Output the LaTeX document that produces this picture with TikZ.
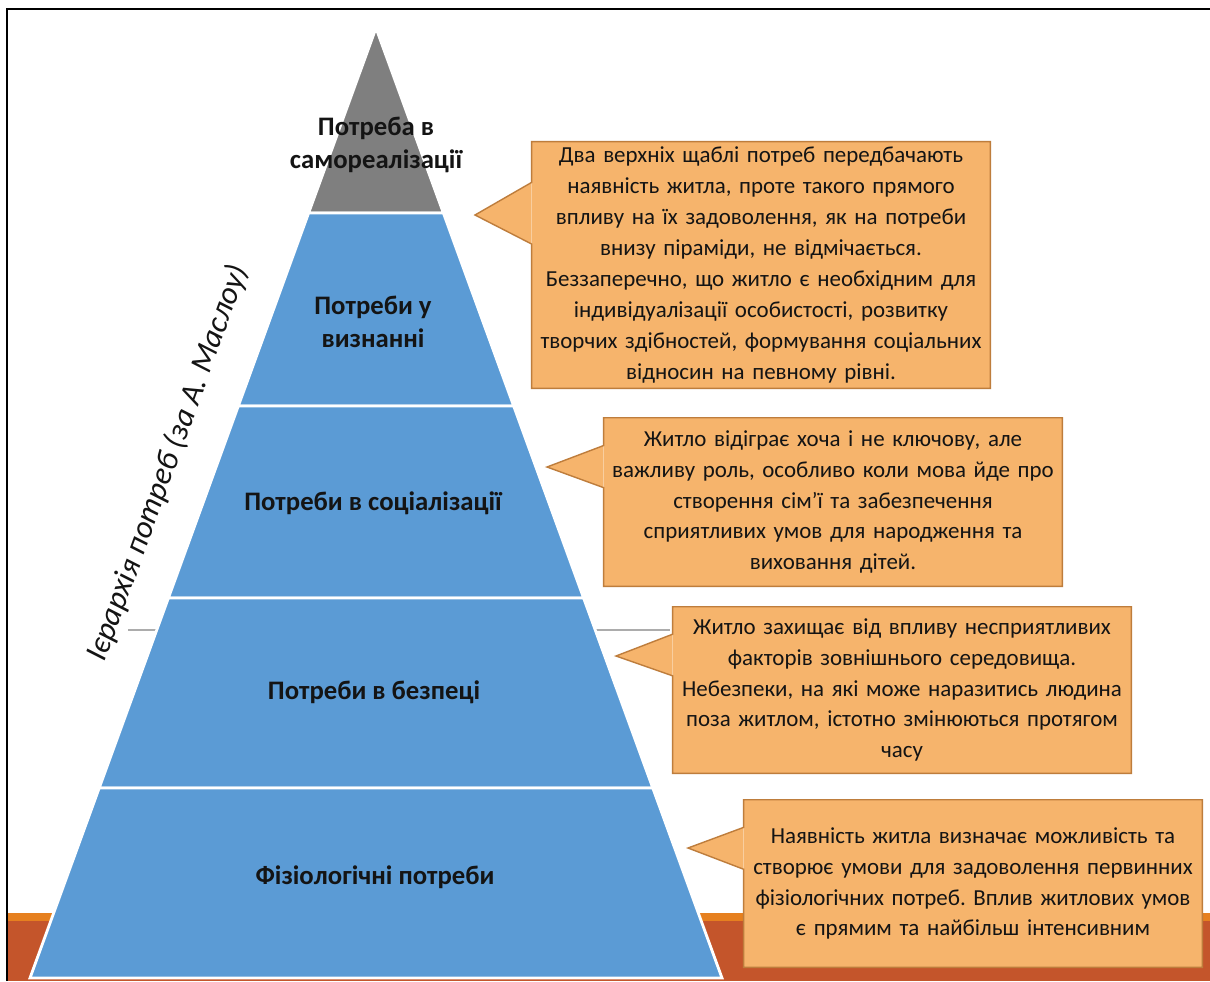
\documentclass[tikz,border=0pt]{standalone}
\usepackage{fontspec}
\setmainfont{Carlito}
\usetikzlibrary{calc}
\frenchspacing

\definecolor{topgray}{HTML}{7F7F7F}
\definecolor{levelblue}{HTML}{5B9BD5}
\definecolor{notefill}{HTML}{F6B46C}
\definecolor{noteline}{HTML}{BE7D3C}
\definecolor{bandlight}{HTML}{E6801F}
\definecolor{banddark}{HTML}{C4552B}

\begin{document}
\begin{tikzpicture}[x=0.025cm,y=-0.025cm,
  level node/.style={font=\fontsize{19}{24}\selectfont\bfseries,text=black!92,align=center},
  note node/.style={fill=notefill,minimum width=11.45cm,text width=11.4cm,align=center,
        inner sep=0pt,font=\fontsize{16.3}{22}\selectfont,text=black!92},
  note edge/.style={draw=noteline,line width=1pt,line join=miter},
  slice node/.style={draw=white,line width=2pt}]
  \useasboundingbox (0,0) rectangle (1210,981);
  \fill[white] (0,0) rectangle (1210,981);

  % frame and bottom band
  \draw[line width=1.5pt] (7,981) -- (7,9) -- (1210,9);
  \fill[banddark] (8,921) rectangle (1210,981);
  \fill[bandlight] (8,913) rectangle (1210,921);
  \draw[gray!65,line width=1pt] (128,630) -- (670,630);

  % pyramid
  \coordinate (apex) at (376,28);
  \coordinate (bl) at (30,978);
  \coordinate (br) at (722,978);
  \filldraw[slice node,fill=topgray] (apex) -- ($(apex)!{185/950}!(bl)$) -- ($(apex)!{185/950}!(br)$) -- cycle;
  \foreach \ya/\yb in {213/406,406/598,598/788,788/978}
    \filldraw[slice node,fill=levelblue]
      ($(apex)!{(\ya-28)/950}!(bl)$) -- ($(apex)!{(\yb-28)/950}!(bl)$) --
      ($(apex)!{(\yb-28)/950}!(br)$) -- ($(apex)!{(\ya-28)/950}!(br)$) -- cycle;

  \node[level node] (self)   at (376,145) {Потреба в\\самореалізації};
  \node[level node] (esteem) at (373,322) {Потреби у\\визнанні};
  \node[level node] (social) at (373,503) {Потреби в соціалізації};
  \node[level node] (safety) at (374,692) {Потреби в безпеці};
  \node[level node] (physio) at (375,877) {Фізіологічні потреби};

  \node[font=\fontsize{22.5}{26}\selectfont\itshape,text=black!92,rotate=70] (title) at (168,463)
    {Ієрархія потреб (за А. Маслоу)};

  % notes
  \node[note node,minimum height=6.15cm] (n1) at (761,265) {Два верхніх щаблі потреб передбачають\\
    наявність житла, проте такого прямого\\впливу на їх задоволення, як на потреби\\
    внизу піраміди, не відмічається.\\Беззаперечно, що житло є необхідним для\\
    індивідуалізації особистості, розвитку\\творчих здібностей, формування соціальних\\
    відносин на певному рівні.};
  \node[note node,minimum height=4.2cm] (n2) at (833,502) {Житло відіграє хоча і не ключову, але\\
    важливу роль, особливо коли мова йде про\\створення сім’ї та забезпечення\\
    сприятливих умов для народження та\\виховання дітей.};
  \node[note node,minimum height=4.15cm] (n3) at (902,690) {Житло захищає від впливу несприятливих\\
    факторів зовнішнього середовища.\\Небезпеки, на які може наразитись людина\\
    поза житлом, істотно змінюються протягом\\часу};
  \node[note node,minimum height=4.175cm] (n4) at (973,883.5) {Наявність житла визначає можливість та\\
    створює умови для задоволення первинних\\фізіологічних потреб. Вплив житлових умов\\
    є прямим та найбільш інтенсивним};

  \coordinate (tip1) at (475,215);
  \coordinate (tip2) at (547,467);
  \coordinate (tip3) at (616,656);
  \coordinate (tip4) at (688,848);

  \foreach \note/\tip in {n1/tip1,n2/tip2,n3/tip3,n4/tip4}{
    \fill[notefill] ($(\note.north west)!.165!(\note.south west)$) -- (\tip) --
      ($(\note.north west)!.415!(\note.south west)$) -- cycle;
    \draw[note edge] ($(\note.north west)!.165!(\note.south west)$) -- (\tip) --
      ($(\note.north west)!.415!(\note.south west)$) -- (\note.south west) --
      (\note.south east) -- (\note.north east) -- (\note.north west) -- cycle;
  }
\end{tikzpicture}
\end{document}
